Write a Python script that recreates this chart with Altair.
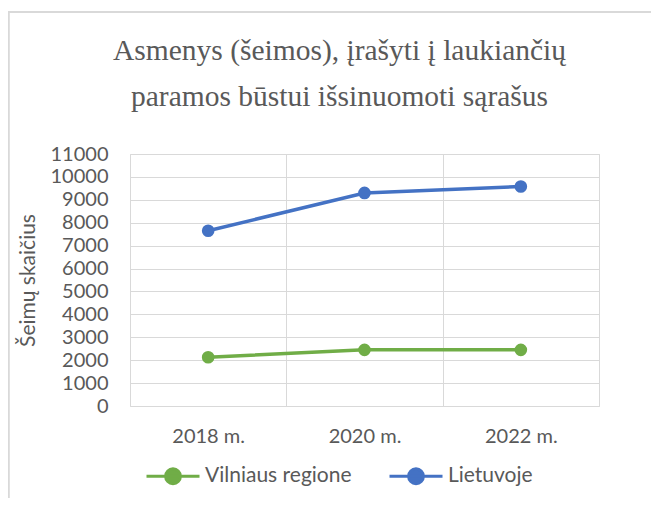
import altair as alt
import pandas as pd

years = ["2018 m.", "2020 m.", "2022 m."]
series_names = ["Vilniaus regione", "Lietuvoje"]
vilnius = [2130, 2450, 2450]
lietuva = [7650, 9300, 9580]
y_ticks = list(range(0, 11001, 1000))
colors = ["#70AD47", "#4472C4"]

rows = []
for name, vals in zip(series_names, [vilnius, lietuva]):
    for yr, v in zip(years, vals):
        rows.append({"Metai": yr, "Serija": name, "Reikšmė": v})
df = pd.DataFrame(rows)

FONT = "Lato"
GRAY = "#595959"
GRID = "#D9D9D9"

x_enc = alt.X(
    "Metai:N",
    sort=years,
    scale=alt.Scale(type="band", paddingInner=0, paddingOuter=0),
    bandPosition=0.5,
    axis=alt.Axis(
        title=None, labelAngle=0, labelFont=FONT, labelFontSize=20, labelColor=GRAY,
        labelPadding=20, ticks=False, domain=False, grid=True, gridColor=GRID,
        tickBand="extent", labelBaseline="top",
    ),
)
y_enc = alt.Y(
    "Reikšmė:Q",
    scale=alt.Scale(domain=[0, 11000], nice=False),
    axis=alt.Axis(
        values=y_ticks, title="Šeimų skaičius", labelFont=FONT, labelFontSize=20,
        labelColor=GRAY, labelPadding=22, ticks=False, domain=False, grid=True,
        gridColor=GRID, titleFont=FONT, titleFontSize=21, titleColor=GRAY,
        titleFontWeight="normal", titleX=-102, titleY=126, titleAngle=-90,
        titleAlign="center", titleBaseline="middle", format="d",
    ),
)
color_enc = alt.Color(
    "Serija:N",
    sort=series_names,
    scale=alt.Scale(domain=series_names, range=colors),
    legend=alt.Legend(
        title=None, orient="none", direction="horizontal", legendX=15, legendY=294,
        labelFont=FONT, labelFontSize=21, labelColor=GRAY, labelOffset=4,
        columnPadding=31,
        symbolType="M-1,0H1M0.28,0A0.28,0.28 0 1,1 -0.28,0A0.28,0.28 0 1,1 0.28,0",
        symbolSize=2809, symbolStrokeWidth=3,
    ),
)

lines = alt.Chart(df).mark_line(strokeWidth=3.5).encode(x=x_enc, y=y_enc, color=color_enc)
points = alt.Chart(df).mark_point(filled=True, size=160, opacity=1).encode(
    x=x_enc, y=y_enc, color=color_enc
)

border = alt.Chart(df).mark_rect(fill=None, stroke=GRID, strokeWidth=1.5).encode(
    x=alt.value(-121.5), x2=alt.value(560), y=alt.value(-142), y2=alt.value(400)
)

chart = (
    alt.layer(border, lines, points)
    .properties(
        width=469,
        height=252,
        padding={"left": 122, "top": 146, "right": 52, "bottom": 92},
        autosize=alt.AutoSizeParams(type="none"),
        title=alt.TitleParams(
            text=["Asmenys (šeimos), įrašyti į laukiančių", "paramos būstui išsinuomoti sąrašus"],
            font="Liberation Serif", fontSize=29.5, color=GRAY, fontWeight="normal",
            lineHeight=46, anchor="middle", frame="group", dx=-25, offset=0, dy=130,
            baseline="bottom",
        ),
    )
    .configure_view(stroke=GRID)
    .configure(background="white")
)

chart.save("out.html", embed_options={"renderer": "svg", "actions": False})
